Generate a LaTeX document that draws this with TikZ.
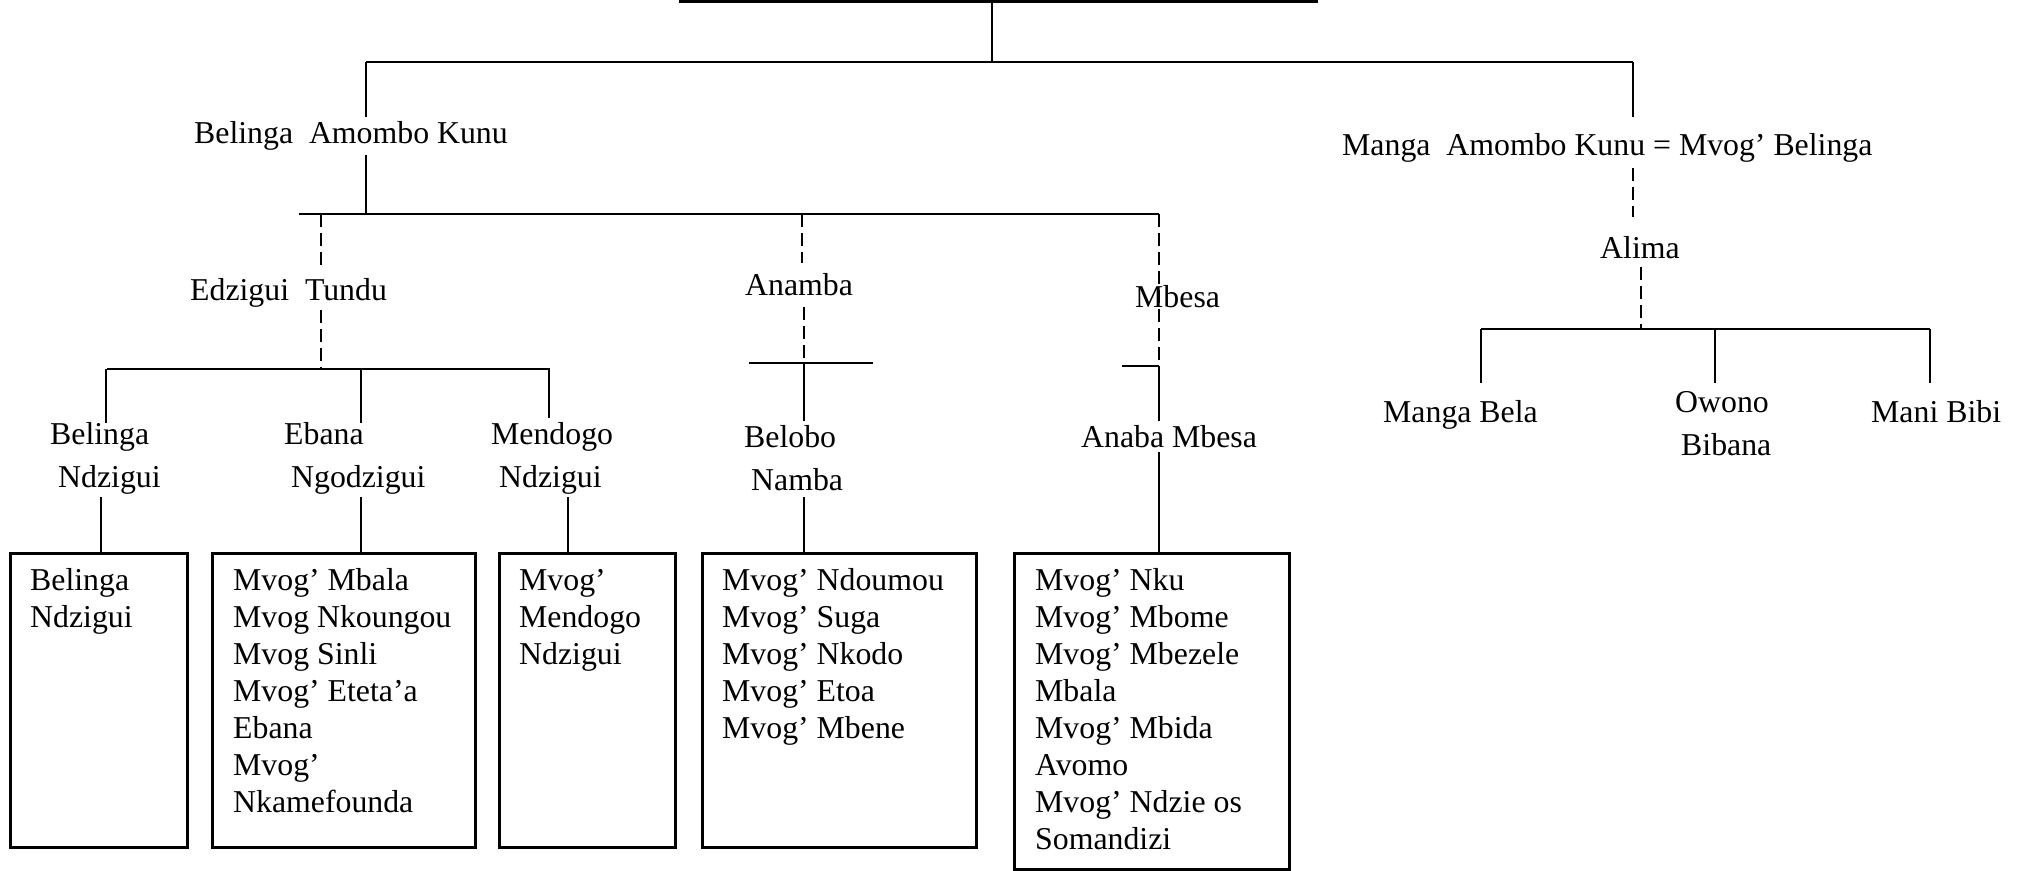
\documentclass[tikz,border=0pt]{standalone}
\usepackage{fontspec}
\setmainfont{Liberation Serif}
\usetikzlibrary{calc}
\newcommand\lblfont{\fontsize{31.8}{42.5}\selectfont}
\newcommand\boxfont{\fontsize{31.8}{37}\selectfont}
\tikzset{
  link/.style={line width=1.6pt},
  dlink/.style={line width=1.6pt, dash pattern=on 13pt off 6pt},
  topbar/.style={line width=3.5pt},
  lbl/.style={font=\lblfont, anchor=base west, inner sep=0pt, align=left},
  frame/.style={draw, line width=2.6pt, anchor=north west, inner sep=0pt},
  boxtxt/.style={font=\boxfont, anchor=base west, inner sep=0pt, align=left}
}
\begin{document}
\begin{tikzpicture}[x=1pt,y=-1pt]
\useasboundingbox (0,0) rectangle (2026,870);

% ---------- level 0 ----------
\coordinate (t0L) at (679,1.5);
\coordinate (t0R) at (1318,1.5);
\coordinate (t0S) at (992,1.5);
\draw[topbar] (t0L) -- (t0R);

% ---------- level 1 ----------
\coordinate (l1M) at (992,62);
\coordinate (l1L) at (366,62);
\coordinate (l1R) at (1633,62);
\draw[link] (t0S) -- (l1M);
\draw[link] (l1L) -- (l1R);

\node[lbl] (bak) at (194,143) {Belinga~~Amombo Kunu};
\node[lbl] (mak) at (1342,155) {Manga~~Amombo Kunu = Mvog’ Belinga};

\coordinate (bakT) at (366,117);
\coordinate (bakB) at (366,155);
\coordinate (makT) at (1633,117);
\draw[link] (l1L) -- (bakT);
\draw[link] (l1R) -- (makT);

% ---------- Belinga's branch ----------
\coordinate (l2L) at (299,214);
\coordinate (l2M) at (366,214);
\coordinate (l2R) at (1159,214);
\draw[link] (bakB) -- (l2M);
\draw[link] (l2L) -- (l2R);

\coordinate (edzA) at (321,214);
\coordinate (anaA) at (802,214);
\coordinate (mbeA) at (1159,214);

\node[lbl] (edz) at (190,300) {Edzigui~~Tundu};
\node[lbl] (ana) at (745,295) {Anamba};
\node[lbl] (mbe) at (1135,307) {Mbesa};

\coordinate (edzT) at (321,265);
\coordinate (anaT) at (802,263);
\draw[dlink] (edzA) -- (edzT);
\draw[dlink] (anaA) -- (anaT);

% Edzigui Tundu's children
\coordinate (edzB) at (321,310);
\coordinate (l3M) at (321,369);
\coordinate (l3L) at (107,369);
\coordinate (l3R) at (550,369);
\draw[dlink] (edzB) -- (l3M);
\draw[link] (l3L) -- (l3R);

% (multi-line nodes: base = baseline of the last line)
\node[lbl] (bn) at (50,487) {Belinga\\\hspace*{8pt}Ndzigui};
\node[lbl] (en) at (284,487) {Ebana\\\hspace*{7pt}Ngodzigui};
\node[lbl] (mn) at (491,487) {Mendogo\\\hspace*{8pt}Ndzigui};

\coordinate (bnA) at (106,369);
\coordinate (bnT) at (106,423);
\coordinate (enA) at (361,369);
\coordinate (enT) at (361,423);
\coordinate (mnA) at (549,369);
\coordinate (mnT) at (549,418);
\draw[link] (bnA) -- (bnT);
\draw[link] (enA) -- (enT);
\draw[link] (mnA) -- (mnT);

% Anamba's child
\coordinate (anaB) at (804,307);
\coordinate (axL) at (749,363);
\coordinate (axR) at (873,363);
\coordinate (axM) at (804,363);
\draw[dlink] (anaB) -- (axM);
\draw[link] (axL) -- (axR);
\node[lbl] (bln) at (744,490) {Belobo\\\hspace*{7pt}Namba};
\coordinate (blnT) at (804,421);
\draw[link] (axM) -- (blnT);

% Mbesa's child
\coordinate (mxM) at (1159,366);
\coordinate (mxL) at (1122,366);
\draw[dlink] (mbeA) -- (mxM);
\draw[link] (mxL) -- (mxM);
\node[lbl] (abm) at (1081,447) {Anaba Mbesa};
\coordinate (abmT) at (1159,421);
\draw[link] (mxM) -- (abmT);

% ---------- boxes ----------
\node[frame, minimum width=177pt, minimum height=294pt] (b1) at (9,552) {};
\node[frame, minimum width=263pt, minimum height=294pt] (b2) at (211,552) {};
\node[frame, minimum width=176pt, minimum height=294pt] (b3) at (498,552) {};
\node[frame, minimum width=274pt, minimum height=294pt] (b4) at (701,552) {};
\node[frame, minimum width=275pt, minimum height=316pt] (b5) at (1013,552) {};

\node[boxtxt] (t1) at (30,627) {Belinga\\Ndzigui};
\node[boxtxt] (t2) at (233,812) {Mvog’ Mbala\\Mvog Nkoungou\\Mvog Sinli\\Mvog’ Eteta’a\\Ebana\\Mvog’\\Nkamefounda};
\node[boxtxt] (t3) at (519,664) {Mvog’\\Mendogo\\Ndzigui};
\node[boxtxt] (t4) at (722,738) {Mvog’ Ndoumou\\Mvog’ Suga\\Mvog’ Nkodo\\Mvog’ Etoa\\Mvog’ Mbene};
\node[boxtxt] (t5) at (1035,849) {Mvog’ Nku\\Mvog’ Mbome\\Mvog’ Mbezele\\Mbala\\Mvog’ Mbida\\Avomo\\Mvog’ Ndzie os\\Somandizi};

\coordinate (bnB) at (101,497);
\coordinate (enB) at (361,497);
\coordinate (mnB) at (568,497);
\coordinate (blnB) at (804,497);
\coordinate (abmB) at (1159,452);
\draw[link] (bnB) -- (bnB |- b1.north);
\draw[link] (enB) -- (enB |- b2.north);
\draw[link] (mnB) -- (mnB |- b3.north);
\draw[link] (blnB) -- (blnB |- b4.north);
\draw[link] (abmB) -- (abmB |- b5.north);

% ---------- Manga's branch ----------
\coordinate (makB) at (1633,168);
\coordinate (aliT) at (1633,217);
\draw[dlink] (makB) -- (aliT);
\node[lbl] (ali) at (1600,258) {Alima};
\coordinate (aliB) at (1641,267);
\coordinate (l4M) at (1641,329);
\draw[dlink] (aliB) -- (l4M);
\coordinate (l4L) at (1481,329);
\coordinate (l4C) at (1715,329);
\coordinate (l4R) at (1930,329);
\draw[link] (l4L) -- (l4R);

\node[lbl] (mgb) at (1383,422) {Manga Bela};
\node[lbl] (owb) at (1675,455) {Owono\\\hspace*{6pt}Bibana};
\node[lbl] (mnb) at (1871,422) {Mani Bibi};

\coordinate (mgbT) at (1481,383);
\coordinate (owbT) at (1715,383);
\coordinate (mnbT) at (1930,383);
\draw[link] (l4L) -- (mgbT);
\draw[link] (l4C) -- (owbT);
\draw[link] (l4R) -- (mnbT);
\end{tikzpicture}
\end{document}
